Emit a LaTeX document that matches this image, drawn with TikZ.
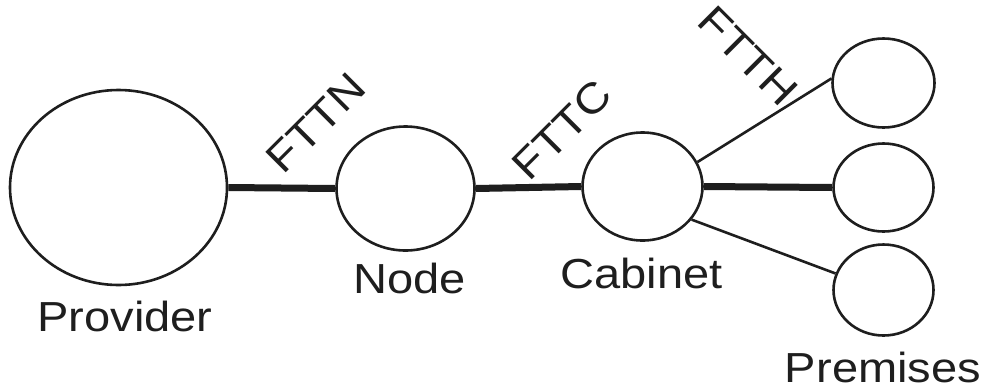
\documentclass[tikz,border=0pt]{standalone}
\usepackage{fontspec}
\setmainfont{Liberation Sans}[FakeStretch=1.12]
\usetikzlibrary{shapes.geometric}
\definecolor{ink}{HTML}{1E1E1E}
\begin{document}
\begin{tikzpicture}[x=1pt,y=-1pt,
  site/.style={draw=ink, ellipse, line width=2.6pt, inner sep=0pt},
  trunk/.style={draw=ink, line width=7pt},
  drop/.style={draw=ink, line width=2.6pt},
  lbl/.style={text=ink, font=\fontsize{42}{50}\selectfont, inner sep=0pt},
  tag/.style={lbl, anchor=base}]
\useasboundingbox (0,0) rectangle (990,389);
\fill[white] (0,0) rectangle (990,389);
\node[site, minimum width=217, minimum height=195] (prov) at (118.5,187.5) {};
\node[site, minimum width=138, minimum height=124] (nd) at (405.5,188.5) {};
\node[site, minimum width=120, minimum height=108] (cab) at (642.5,186.5) {};
\node[site, minimum width=102, minimum height=89] (pt) at (883.5,83) {};
\node[site, minimum width=100, minimum height=88] (pm) at (883.5,187.5) {};
\node[site, minimum width=100, minimum height=91] (pb) at (883.5,290) {};
\draw[trunk] (prov.east) -- (nd.west);
\draw[trunk] (nd.east) -- (cab.west);
\draw[trunk] (cab.east) -- (pm.west);
\draw[drop] (cab.24) -- (pt.175);
\draw[drop] (cab.-34) -- (pb.161);
\node[tag] (tprov) at (125,331) {Provider};
\node[tag] (tnd) at (409.5,293) {Node};
\node[tag] (tcab) at (641.5,288) {Cabinet};
\node[tag] (tprem) at (883,382) {Premises};
\node[lbl, rotate=45] (fttn) at (316,123) {FTTN};
\node[lbl, rotate=45] (fttc) at (562,130) {FTTC};
\node[lbl, rotate=-45] (ftth) at (748,56) {FTTH};
\end{tikzpicture}
\end{document}
